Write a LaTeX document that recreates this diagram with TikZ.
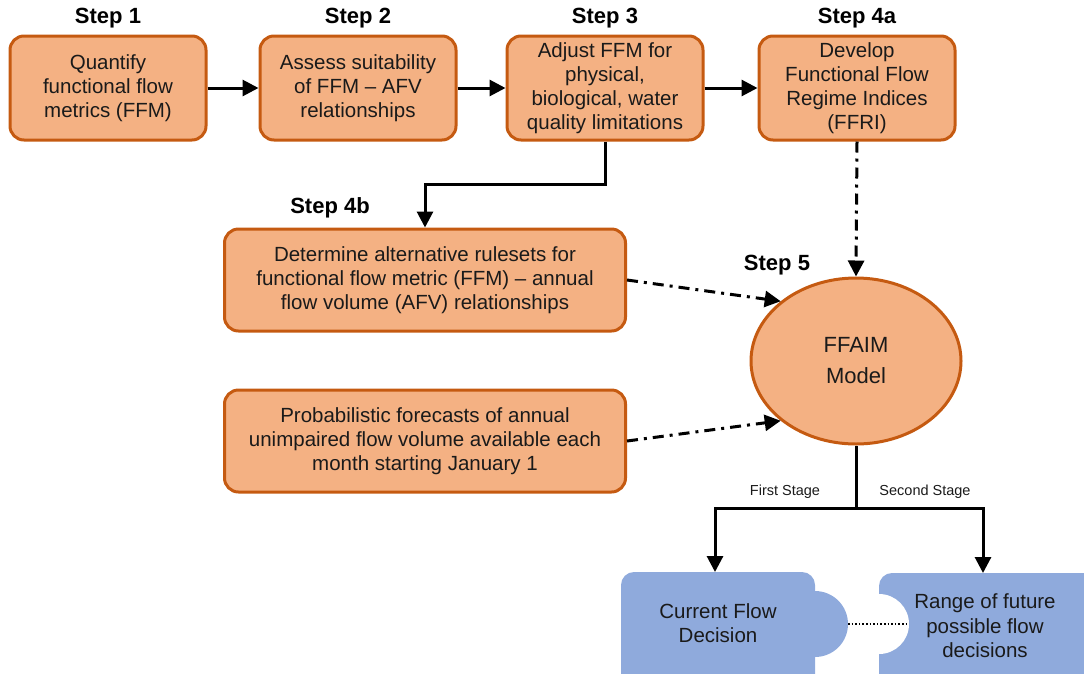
\documentclass[tikz,border=0pt]{standalone}
\usepackage{fontspec}
\setmainfont{Liberation Sans}
\usetikzlibrary{arrows.meta,shapes.geometric}
\definecolor{boxfill}{HTML}{F4B183}
\definecolor{boxline}{HTML}{C55A11}
\definecolor{bluefill}{HTML}{8FAADC}
\definecolor{txt}{HTML}{1A1A1A}
\begin{document}
\begin{tikzpicture}[x=1pt,y=-1pt,
  stepbox/.style={draw=boxline,fill=boxfill,line width=3pt,rounded corners=14pt,
    minimum width=196pt,minimum height=104pt,align=center,inner sep=2pt,
    font=\fontsize{20.5}{24}\selectfont,text=txt},
  widebox/.style={stepbox,minimum width=401pt,minimum height=102pt},
  steplabel/.style={font=\fontsize{22}{24}\selectfont\bfseries,text=black},
  arr/.style={line width=3pt,-{Triangle[length=16pt,width=16pt]}},
  dda/.style={line width=3pt,dash pattern=on 11pt off 6pt on 3pt off 6pt,-{Triangle[length=16pt,width=16pt]}},
  stagelabel/.style={font=\fontsize{14.5}{16}\selectfont,text=txt},
  bluetext/.style={align=center,font=\fontsize{20.5}{24.5}\selectfont,text=txt}
]
\useasboundingbox (0,0) rectangle (1084,673);
\clip (0,0) rectangle (1084,673);

% step labels
\node[steplabel] (l1) at (108,18) {Step 1};
\node[steplabel] (l2) at (358,18) {Step 2};
\node[steplabel] (l3) at (605,18) {Step 3};
\node[steplabel] (l4a) at (857,18) {Step 4a};
\node[steplabel] (l4b) at (330,208) {Step 4b};
\node[steplabel] (l5) at (777,265) {Step 5};

% top row boxes
\node[stepbox] (s1) at (108,88) {Quantify\\functional flow\\metrics (FFM)};
\node[stepbox] (s2) at (358,88) {Assess suitability\\of FFM -- AFV\\relationships};
\node[stepbox] (s3) at (605,88) {Adjust FFM for\\physical,\\biological, water\\quality limitations};
\node[stepbox] (s4a) at (857,88) {Develop\\Functional Flow\\Regime Indices\\(FFRI)};

% left boxes
\node[widebox] (s4b) at (425,280) {Determine alternative rulesets for\\functional flow metric (FFM) -- annual\\flow volume (AFV) relationships};
\node[widebox] (pf) at (425,441) {Probabilistic forecasts of annual\\unimpaired flow volume available each\\month starting January 1};

% model ellipse
\node[ellipse,draw=boxline,fill=boxfill,line width=3pt,minimum width=210pt,minimum height=166pt,
  inner sep=0pt,align=center,font=\fontsize{22}{31}\selectfont,text=txt] (ffaim) at (856,361) {FFAIM\\Model};

% arrows
\draw[arr] (s1) -- (s2);
\draw[arr] (s2) -- (s3);
\draw[arr] (s3) -- (s4a);
\draw[arr] (s3.south) -- ++(0,43) -| (s4b.north);
\draw[dda] (s4a.south) -- (ffaim.north);
\draw[dda] (s4b.east) -- (ffaim.north west);
\draw[dda] (pf.east) -- (ffaim.south west);

% blue decision shapes
\fill[bluefill,rounded corners=13pt] (621,572) rectangle (815,710);
\fill[bluefill] (815,624) circle[radius=33pt];
\fill[bluefill,rounded corners=13pt] (879,573) rectangle (1110,710);
\fill[white] (879,624) circle[radius=30pt];
\coordinate (bump) at (848,624);
\coordinate (notch) at (909,624);
\coordinate (curtop) at (715,572);
\coordinate (rngtop) at (983,573);
\node[bluetext] (cur) at (718,623) {Current Flow\\Decision};
\node[bluetext] (rng) at (985,626) {Range of future\\possible flow\\decisions};
\draw[line width=1.6pt,dotted] (bump) -- (notch);

% branch to stages
\coordinate (br) at (856,508);
\draw[line width=3pt] (ffaim.south) -- (br);
\draw[arr] (br) -| (curtop);
\draw[arr] (br) -| (rngtop);
\node[stagelabel] (fs) at (785,492) {First Stage};
\node[stagelabel] (ss) at (925,492) {Second Stage};
\end{tikzpicture}
\end{document}
